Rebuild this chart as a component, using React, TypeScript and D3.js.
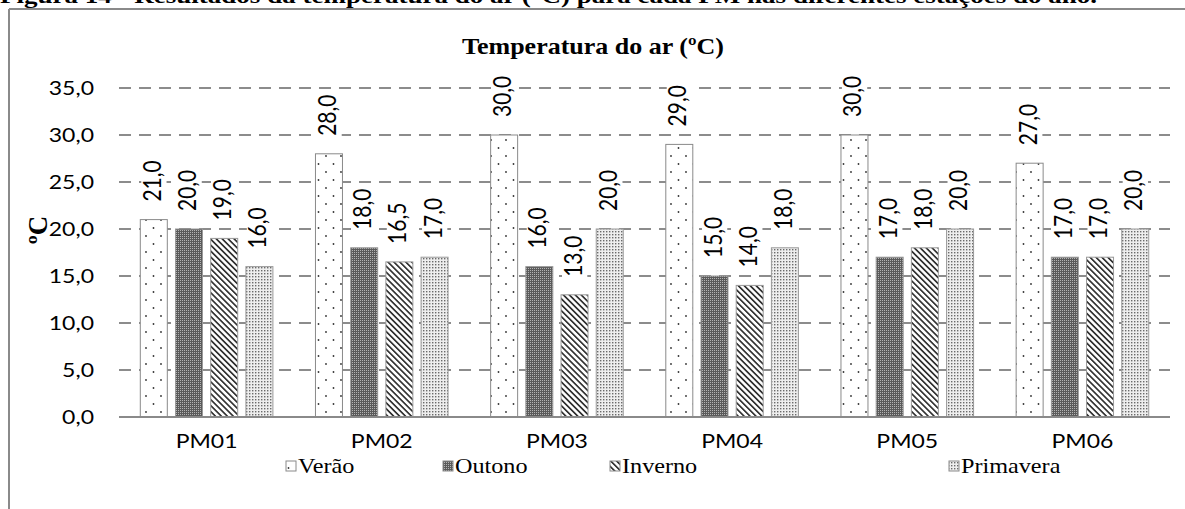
import React from "react";
import * as d3 from "d3";

const categories = ["PM01", "PM02", "PM03", "PM04", "PM05", "PM06"];
const seriesNames = ["Verão", "Outono", "Inverno", "Primavera"];
const verao = [21, 28, 30, 29, 30, 27];
const outono = [20, 18, 16, 15, 17, 17];
const inverno = [19, 16.5, 13, 14, 18, 17];
const primavera = [16, 17, 20, 18, 20, 20];
const yTicks = [0, 5, 10, 15, 20, 25, 30, 35];

const seriesValues = [verao, outono, inverno, primavera];
const patternIds = ["pVerao", "pOutono", "pInverno", "pPrimavera"];
const legendX = [286, 443, 610, 949];

const W = 1185;
const H = 509;
const SANS = "Lato, 'Open Sans', sans-serif";
const SERIF = "'Liberation Serif', 'Times New Roman', serif";
const fmt = (v: number) => v.toFixed(1).replace(".", ",");

export default function App() {
  const x = d3.scaleBand<string>().domain(categories).range([119, 1170]).paddingInner(0).paddingOuter(0);
  const bw = x.bandwidth();
  const inner = d3
    .scaleBand<string>()
    .domain(seriesNames)
    .range([bw * 0.1216, bw * 0.1216 + bw * 0.757])
    .paddingInner(0.233)
    .paddingOuter(0);
  const y = d3.scaleLinear().domain([0, 35]).range([417, 88]);
  const SX = 1.15;

  return (
    <svg width={W} height={H} style={{ position: "absolute", left: 0, top: 0 }}>
      <defs>
        <pattern id="pVerao" patternUnits="userSpaceOnUse" width="15" height="16">
          <rect width="15" height="16" fill="#fff" />
          <circle cx="3.5" cy="4" r="0.9" fill="#333" />
          <circle cx="11" cy="12" r="0.9" fill="#333" />
        </pattern>
        <pattern id="pOutono" patternUnits="userSpaceOnUse" width="2" height="2">
          <rect width="2" height="2" fill="#5a5a5a" />
          <rect x="0" y="0" width="1" height="1" fill="#b4b4b4" />
        </pattern>
        <pattern id="pInverno" patternUnits="userSpaceOnUse" width="4.2" height="4.2" patternTransform="rotate(-45)">
          <rect width="4.2" height="4.2" fill="#fff" />
          <rect x="0" y="0" width="1.7" height="4.2" fill="#333" />
        </pattern>
        <pattern id="pPrimavera" patternUnits="userSpaceOnUse" width="3" height="3">
          <rect width="3" height="3" fill="#eeeeee" />
          <rect x="0" y="0" width="1.4" height="1.4" fill="#6a6a6a" />
        </pattern>
      </defs>

      {/* figure caption (cut off at top, as in the source) */}
      <text
        x={0}
        y={3}
        fontFamily={SERIF}
        fontWeight="bold"
        fontSize={20}
        textLength={1097}
        lengthAdjust="spacingAndGlyphs"
      >
        Figura 14 - Resultados da temperatura do ar (°C) para cada PM nas diferentes estações do ano.
      </text>

      {/* frame */}
      <line x1={9} y1={9} x2={W} y2={9} stroke="#8a8a8a" strokeWidth={2} />
      <line x1={9} y1={9} x2={9} y2={H} stroke="#8a8a8a" strokeWidth={2} />

      {/* chart title */}
      <text x={593} y={54} textAnchor="middle" fontFamily={SERIF} fontWeight="bold" fontSize={23}
        textLength={262} lengthAdjust="spacingAndGlyphs">
        Temperatura do ar (ºC)
      </text>

      {/* y axis title */}
      <text
        transform={`translate(47,230) rotate(-90)`}
        textAnchor="middle"
        fontFamily={SERIF}
        fontWeight="bold"
        fontSize={27}
      >
        ºC
      </text>

      {/* gridlines */}
      {yTicks.filter((t) => t > 0).map((t) => (
        <line key={t} x1={119} x2={1170} y1={y(t)} y2={y(t)} stroke="#8c8c8c" strokeWidth={2} strokeDasharray="12,8" />
      ))}

      {/* tick labels */}
      {yTicks.map((t) => (
        <text key={t} transform={`translate(94,${y(t) + 7}) scale(${SX},1)`} textAnchor="end" fontFamily={SANS} fontWeight={400} fontSize={20} fill="#000">
          {fmt(t)}
        </text>
      ))}

      {/* bars */}
      {categories.map((c, ci) =>
        seriesNames.map((s, si) => {
          const v = seriesValues[si][ci];
          const bx = (x(c) as number) + (inner(s) as number);
          return (
            <rect
              key={c + s}
              x={bx}
              y={y(v)}
              width={inner.bandwidth()}
              height={y(0) - y(v)}
              fill={`url(#${patternIds[si]})`}
              stroke={si === 0 ? "#8a8a8a" : "#9a9a9a"}
              strokeWidth={1}
            />
          );
        })
      )}

      {/* baseline */}
      <line x1={119} x2={1170} y1={y(0)} y2={y(0)} stroke="#8a8a8a" strokeWidth={2} />

      {/* data labels with white boxes */}
      {categories.map((c, ci) =>
        seriesNames.map((s, si) => {
          const v = seriesValues[si][ci];
          const cx = (x(c) as number) + (inner(s) as number) + inner.bandwidth() / 2;
          return (
            <g key={"l" + c + s} transform={`translate(${cx + 7},${y(v) - 18}) scale(${SX},1) rotate(-90)`}>
              <rect x={-3} y={-17} width={46} height={22} fill="#fff" />
              <text
                textAnchor="start"
                fontFamily={SANS}
                fontWeight={400}
                fontSize={21}
                fill="#000"
              >
                {fmt(v)}
              </text>
            </g>
          );
        })
      )}

      {/* category labels */}
      {categories.map((c) => (
        <text key={c} transform={`translate(${(x(c) as number) + bw / 2},448) scale(${SX},1)`} textAnchor="middle" fontFamily={SANS} fontWeight={400} fontSize={20}>
          {c}
        </text>
      ))}

      {/* legend */}
      {seriesNames.map((s, si) => (
        <g key={s}>
          <rect x={legendX[si]} y={461} width={10} height={10} fill={`url(#${patternIds[si]})`} stroke="#8a8a8a" strokeWidth={1} />
          <text transform={`translate(${legendX[si] + 12},473) scale(1.1,1)`} fontFamily={SERIF} fontSize={22}>
            {s}
          </text>
        </g>
      ))}
    </svg>
  );
}
